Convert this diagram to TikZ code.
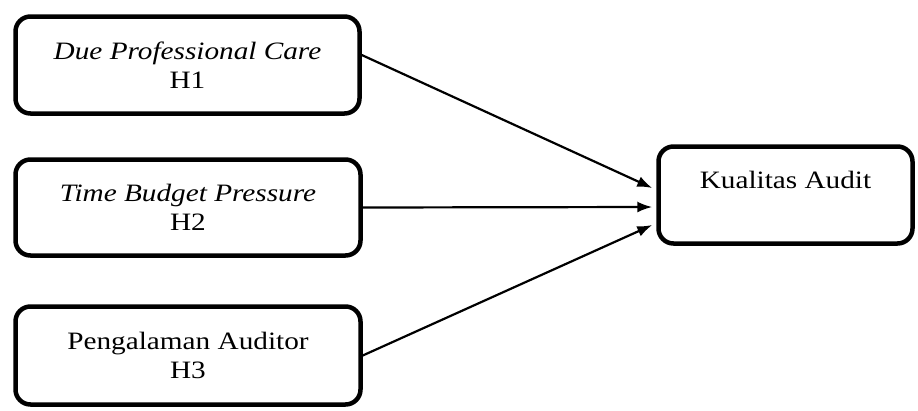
\documentclass[tikz,border=0pt]{standalone}
\usepackage{fontspec}
\setmainfont[FakeStretch=1.17]{Liberation Serif}
\usetikzlibrary{arrows.meta}
\tikzset{
  box/.style={draw, line width=4.5pt, rounded corners=15pt, align=center,
    inner sep=0pt, font=\fontsize{25}{29.5}\selectfont},
  conn/.style={line width=2.2pt, -{Latex[length=15pt,width=11pt]}}
}
\begin{document}
\begin{tikzpicture}[x=1pt,y=-1pt]
\useasboundingbox (0,0) rectangle (918,410);
\node[box, minimum width=344pt, minimum height=97pt] (b1) at (187.5,65) {\textit{Due Professional Care}\\H1};
\node[box, minimum width=345pt, minimum height=96pt] (b2) at (188,207.5) {\textit{Time Budget Pressure}\\H2};
\node[box, minimum width=345pt, minimum height=98pt] (b3) at (188,355.5) {Pengalaman Auditor\\H3};
\node[box, minimum width=254pt, minimum height=97pt] (k) at (785.5,195) {Kualitas Audit\\\mbox{}};
\draw[conn] ([yshift=10pt]b1.east) -- ([xshift=-4pt,yshift=7pt]k.west);
\draw[conn] (b2.east) -- ([xshift=-4pt,yshift=-12pt]k.west);
\draw[conn] (b3.east) -- ([xshift=-4pt,yshift=-30pt]k.west);
\end{tikzpicture}
\end{document}
